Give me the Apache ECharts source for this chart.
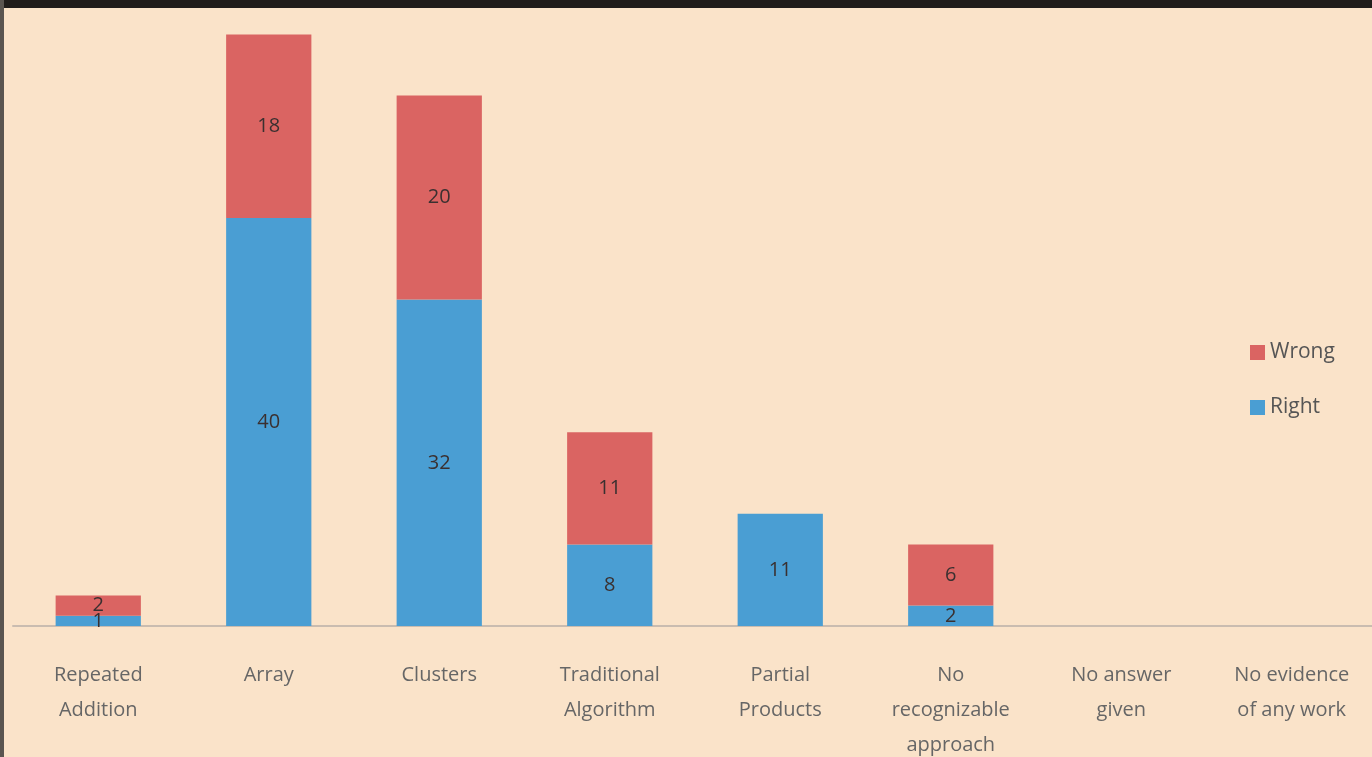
<!DOCTYPE html>
<html><head><meta charset="utf-8">
<script src="https://cdn.jsdelivr.net/npm/echarts@6/dist/echarts.min.js"></script>
<style>html,body{margin:0;padding:0;background:#FAE3C9;}#c{width:1372px;height:757px;}</style>
</head><body><div id="c"></div>
<script>
const categories = ['Repeated\nAddition','Array','Clusters','Traditional\nAlgorithm','Partial\nProducts','No\nrecognizable\napproach','No answer\ngiven','No evidence\nof any work'];
const rightValues = [1,40,32,8,11,2,0,0];
const wrongValues = [2,18,20,11,0,6,0,0];
const chart = echarts.init(document.getElementById('c'));
const lbl = {show:true, position:'inside', color:'#3a3030', fontSize:20, fontFamily:'Open Sans', formatter: p => p.value ? p.value : ''};
chart.setOption({
  backgroundColor:'#FAE3C9',
  animation:false,
  grid:{left:13, top:14, width:1364, height:612, outerBoundsMode:'none', containLabel:false},
  legend:{orient:'vertical', left:1245, top:337, itemWidth:15, itemHeight:15, itemGap:34, icon:'rect',
    data:['Wrong','Right'], textStyle:{color:'#555', fontSize:21, fontFamily:'Open Sans'}},
  xAxis:{type:'category', data:categories, axisTick:{show:false},
    axisLine:{lineStyle:{color:'#C9BCB0', width:2}},
    axisLabel:{color:'#666', fontSize:20, fontFamily:'Open Sans', lineHeight:35, margin:32, interval:0}},
  yAxis:{type:'value', min:0, max:60, show:false, splitLine:{show:false}},
  series:[
    {name:'Right', type:'bar', stack:'s', data:rightValues, barWidth:'50%', itemStyle:{color:'#4A9ED3'}, label:lbl},
    {name:'Wrong', type:'bar', stack:'s', data:wrongValues, barWidth:'50%', itemStyle:{color:'#DA6462'}, label:lbl}
  ],
  graphic:[
    {type:'rect', shape:{x:0,y:0,width:1372,height:8}, style:{fill:'#201d1b'}},
    {type:'rect', shape:{x:0,y:0,width:4,height:757}, style:{fill:'#5a5550'}}
  ]
});
</script></body></html>
